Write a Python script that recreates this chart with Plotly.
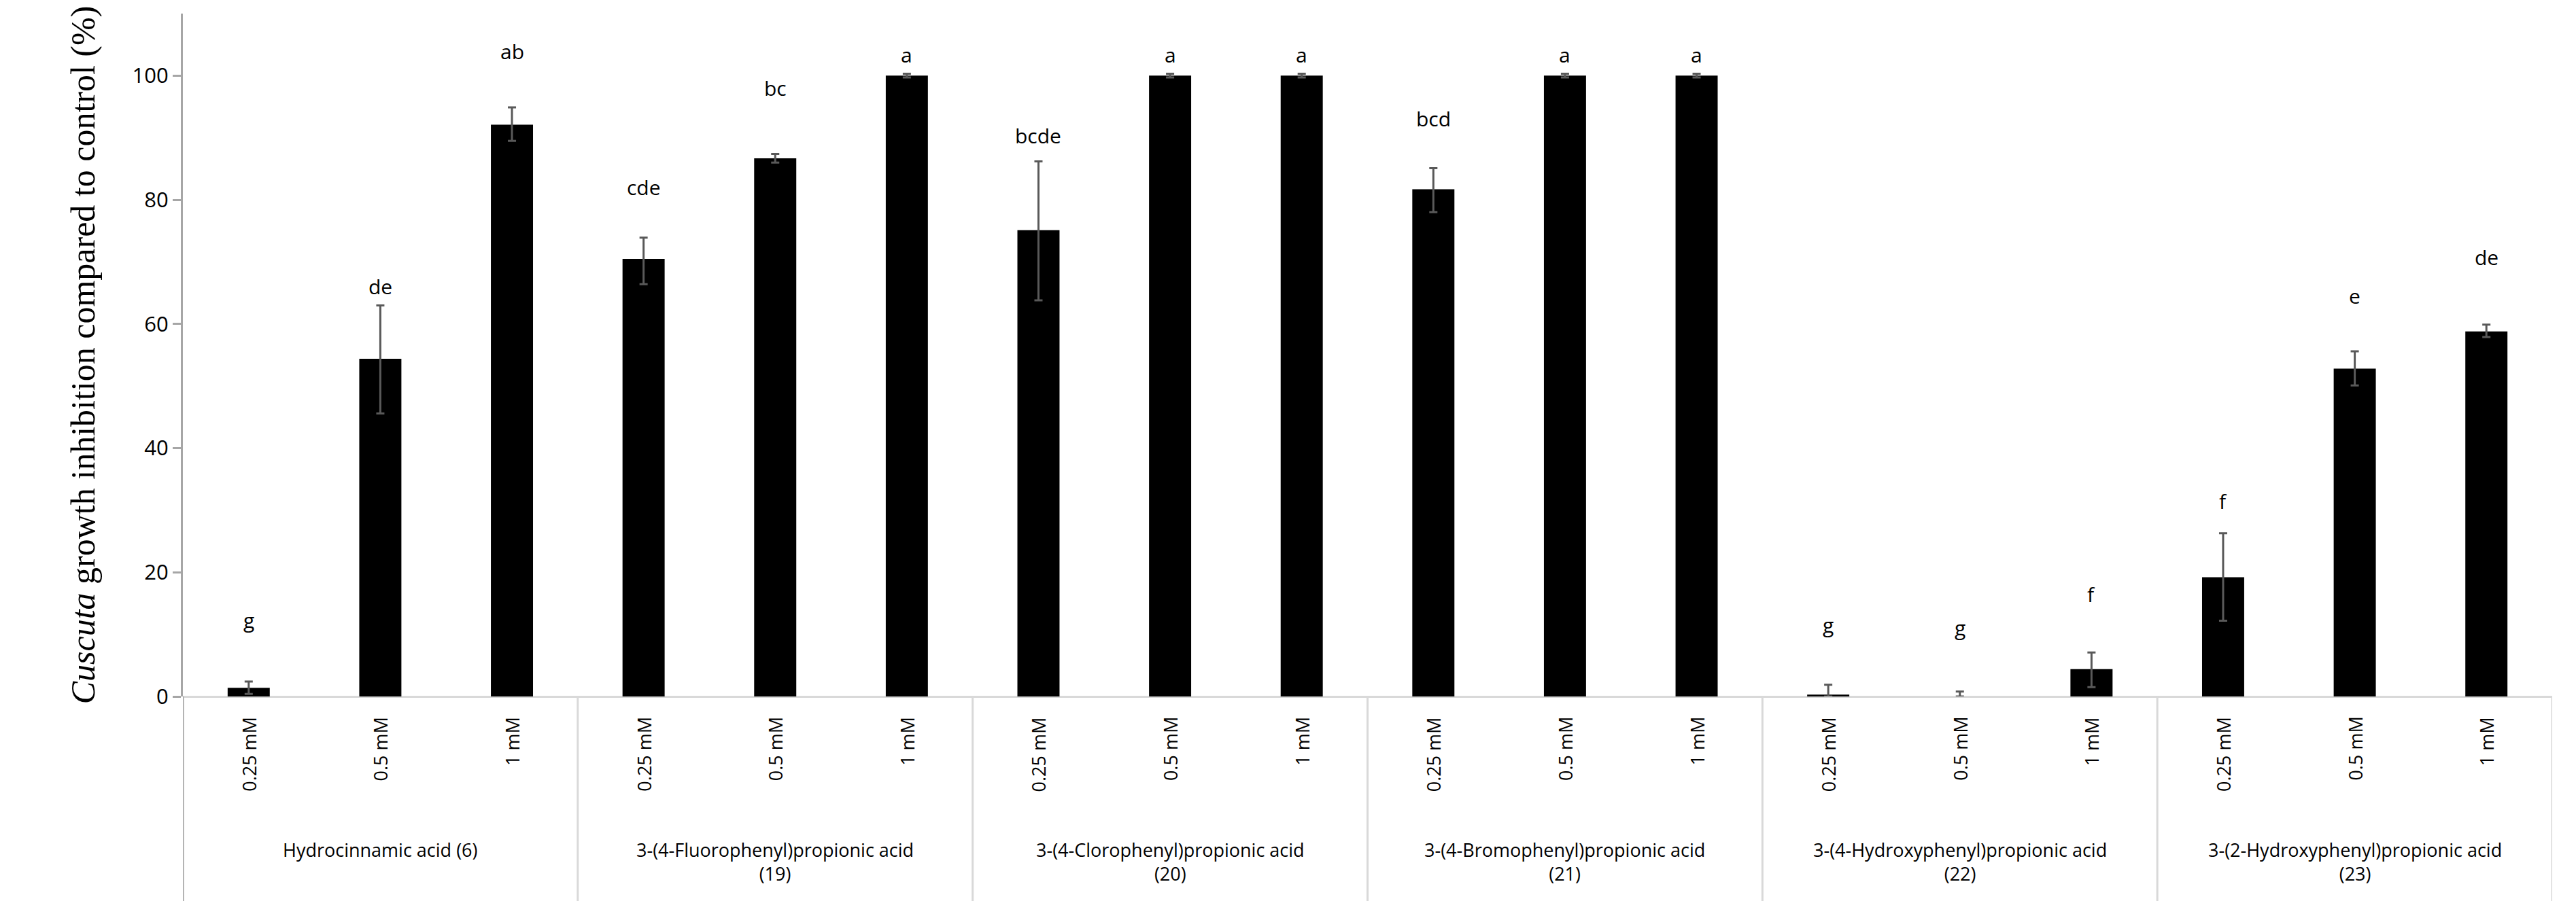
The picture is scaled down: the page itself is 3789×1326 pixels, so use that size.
import plotly.graph_objects as go

# Values
groups = ['Hydrocinnamic acid (6)', '3-(4-Fluorophenyl)propionic acid<br>(19)',
          '3-(4-Clorophenyl)propionic acid<br>(20)', '3-(4-Bromophenyl)propionic acid<br>(21)',
          '3-(4-Hydroxyphenyl)propionic acid<br>(22)', '3-(2-Hydroxyphenyl)propionic acid<br>(23)']
doses = ['0.25 mM', '0.5 mM', '1 mM']
values = [1.4, 54.4, 92.1, 70.5, 86.7, 100, 75.1, 100, 100,
          81.7, 100, 100, 0.3, 0.0, 4.4, 19.2, 52.8, 58.8]
err_plus = [1.0, 8.6, 2.8, 3.4, 0.7, 0.3, 11.1, 0.3, 0.3,
            3.4, 0.3, 0.3, 1.6, 0.8, 2.7, 7.1, 2.8, 1.1]
err_minus = [1.0, 8.8, 2.6, 4.1, 0.7, 0.3, 11.3, 0.3, 0.3,
             3.7, 0.3, 0.3, 0.3, 0.0, 2.9, 7.0, 2.7, 0.9]
letters = ['g', 'de', 'ab', 'cde', 'bc', 'a', 'bcde', 'a', 'a',
           'bcd', 'a', 'a', 'g', 'g', 'f', 'f', 'e', 'de']
letter_y = [12.3, 66.1, 103.9, 82.0, 98.0, 103.4, 90.4, 103.4, 103.4,
            93.1, 103.4, 103.4, 11.6, 11.1, 16.5, 31.5, 64.5, 70.8]

n = len(values)
xs = list(range(n))
font = 'Open Sans'

fig = go.Figure(go.Bar(
    x=xs, y=values, width=0.32, marker_color='black', marker_line_width=0,
    error_y=dict(type='data', symmetric=False, array=err_plus, arrayminus=err_minus,
                 color='#595959', thickness=3, width=6),
))

for x, t, y in zip(xs, letters, letter_y):
    fig.add_annotation(x=x, y=y, text=t, showarrow=False, yanchor='middle',
                       font=dict(size=30, color='black', family=font))
    fig.add_annotation(x=x, y=0, yref='y', text=doses[x % 3], showarrow=False,
                       textangle=-90, yanchor='top', yshift=-28,
                       font=dict(size=27, color='black', family=font))

for g, name in enumerate(groups):
    fig.add_annotation(x=3 * g + 1, y=0, text=name, showarrow=False, yanchor='top',
                       yshift=-205, font=dict(size=27, color='black', family=font))

bottom = -309 / 1005
for k in range(7):
    fig.add_shape(type='line', xref='x', yref='paper', x0=3 * k - 0.5, x1=3 * k - 0.5,
                  y0=0, y1=bottom, line=dict(color='#d9d9d9', width=3))
fig.add_shape(type='line', xref='x', yref='paper', x0=-0.5, x1=-0.5, y0=0, y1=bottom,
              line=dict(color='#a6a6a6', width=3))

fig.update_xaxes(range=[-0.5, n - 0.5], showticklabels=False, showgrid=False,
                 zeroline=False, showline=False)
fig.update_yaxes(range=[0, 110], tickvals=[0, 20, 40, 60, 80, 100], showgrid=False,
                 zeroline=True, zerolinecolor='#d9d9d9', zerolinewidth=3,
                 showline=True, linecolor='#a6a6a6', linewidth=3,
                 ticks='outside', ticklen=12, tickcolor='#a6a6a6', tickwidth=3,
                 tickfont=dict(size=31, color='black', family=font),
                 title=dict(text='<i>Cuscuta</i> growth inhibition compared to control (%)',
                            font=dict(size=50, color='black', family='Liberation Sans Narrow'),
                            standoff=40))

fig.update_layout(width=3789, height=1326, plot_bgcolor='white', paper_bgcolor='white',
                  margin=dict(l=261, r=43, t=12, b=309), showlegend=False, bargap=0.68)

fig.write_html('out.html')
